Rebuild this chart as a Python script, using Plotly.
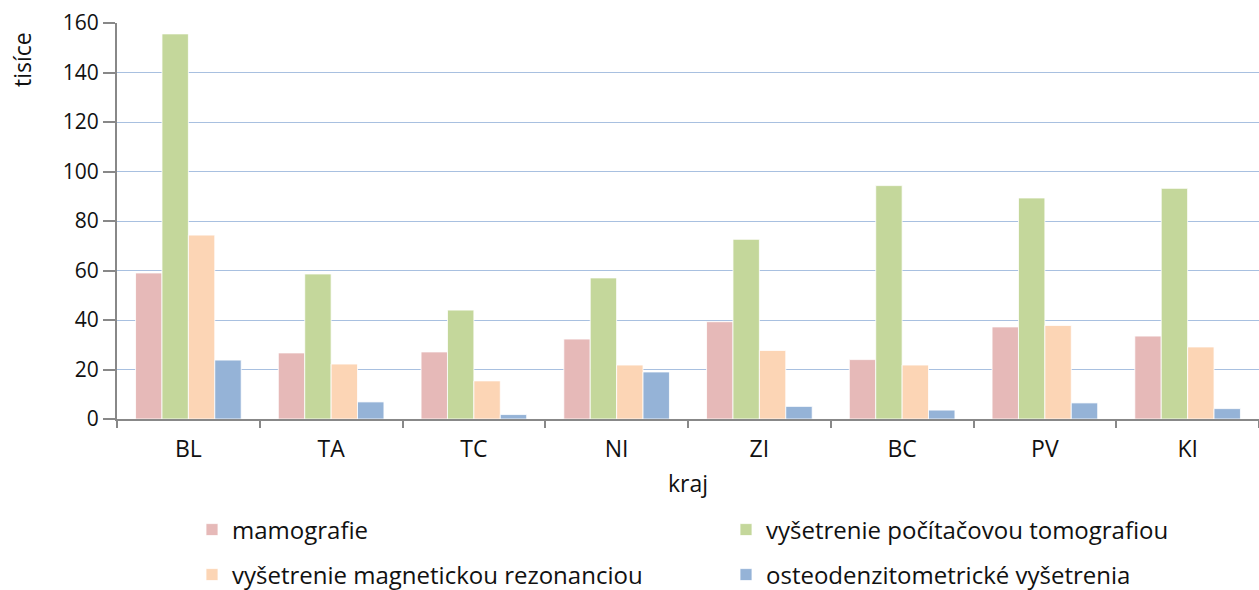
import plotly.graph_objects as go

categories = ["BL", "TA", "TC", "NI", "ZI", "BC", "PV", "KI"]
mamografie = [59.0, 26.7, 27.1, 32.3, 39.3, 24.0, 37.2, 33.5]
ct = [155.6, 58.6, 44.0, 57.0, 72.6, 94.3, 89.3, 93.2]
mr = [74.3, 22.2, 15.4, 21.8, 27.7, 21.8, 37.8, 29.1]
osteo = [23.8, 6.9, 1.8, 19.0, 5.1, 3.6, 6.5, 4.2]
series_names = ["mamografie", "vyšetrenie počítačovou tomografiou",
                "vyšetrenie magnetickou rezonanciou", "osteodenzitometrické vyšetrenia"]
colors = ["#e6b9b8", "#c4d79b", "#fcd5b5", "#95b3d7"]
legends = ["legend", "legend", "legend2", "legend2"]
y_ticks = [0, 20, 40, 60, 80, 100, 120, 140, 160]

FONT = "Open Sans"
W, H = 1259, 590
ML, MR_, MT, MB = 117, 0, 23, 171
fig = go.Figure()
for name, vals, col, lg in zip(series_names, [mamografie, ct, mr, osteo], colors, legends):
    fig.add_trace(go.Bar(x=categories, y=vals, name=name, legend=lg,
                         marker=dict(color=col, line=dict(color="white", width=0.8))))

legend_common = dict(orientation="h", xref="container", yref="container",
                     xanchor="left", yanchor="middle", entrywidth=489, entrywidthmode="pixels",
                     font=dict(family=FONT, size=24, color="#111"), bgcolor="rgba(0,0,0,0)",
                     itemwidth=30, traceorder="normal", borderwidth=0)
lx = 192 / W
fig.update_layout(
    width=W, height=H,
    margin=dict(l=ML, r=MR_, t=MT, b=MB),
    paper_bgcolor="white", plot_bgcolor="white",
    barmode="group", bargap=0.26, bargroupgap=0,
    font=dict(family=FONT, size=23, color="#111"),
    legend=dict(x=lx, y=1 - 530 / H, **legend_common),
    legend2=dict(x=lx, y=1 - 575 / H, **legend_common),
    xaxis=dict(title=dict(text="kraj", font=dict(size=23), standoff=13),
               showline=True, linecolor="#888", linewidth=2,
               ticks="outside", tickson="boundaries", ticklen=7, tickcolor="#888", tickwidth=2,
               ticklabelstandoff=8, tickfont=dict(size=23)),
    yaxis=dict(range=[0, 160], tickvals=y_ticks,
               showline=True, linecolor="#888", linewidth=2,
               ticks="outside", ticklen=12, tickcolor="#888", tickwidth=2,
               showgrid=True, gridcolor="#a8c0e0", gridwidth=1, zeroline=False,
               tickfont=dict(size=21)),
    annotations=[dict(text="tisíce", textangle=-90, showarrow=False,
                      xref="paper", yref="paper",
                      x=(22 - ML) / (W - ML - MR_), y=1 - (60 - MT) / (H - MT - MB),
                      xanchor="center", yanchor="middle",
                      font=dict(family=FONT, size=23, color="#111"))],
)
fig.write_html("out.html", config={"displayModeBar": False})
with open("out.html", encoding="utf-8") as f:
    html = f.read()
html = html.replace("<head>", "<head><style>html,body{margin:0;padding:0;}</style>", 1)
with open("out.html", "w", encoding="utf-8") as f:
    f.write(html)
